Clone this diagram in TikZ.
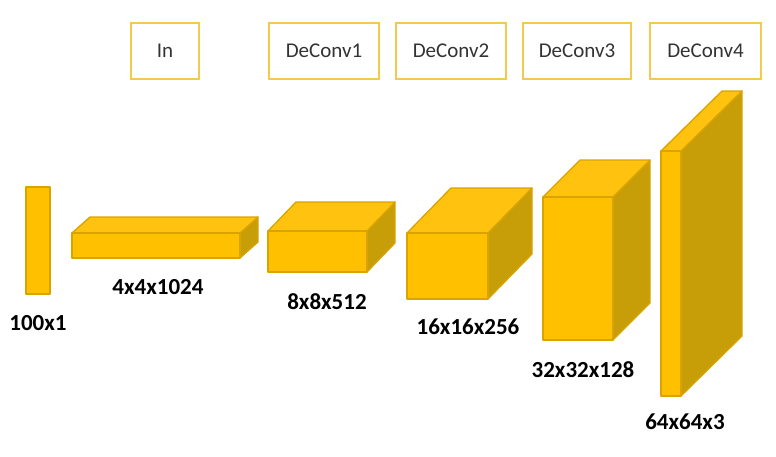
\documentclass[tikz,border=0pt]{standalone}
\usepackage{fontspec}
\setmainfont{Carlito}
\usepackage{tikz}

\definecolor{frontgold}{HTML}{FFC000}
\definecolor{topgold}{HTML}{FFC30F}
\definecolor{sidegold}{HTML}{C89E08}
\definecolor{edgegold}{HTML}{D9A400}
\definecolor{tagframe}{HTML}{F5C94E}
\definecolor{tagtext}{HTML}{333333}

\tikzset{
    face/.style={draw=edgegold, line width=1.3pt, line join=round},
    tag/.style={rectangle, draw=tagframe, line width=2pt, fill=white,
        text=tagtext, font=\fontsize{21}{25}\selectfont,
        minimum height=56pt, inner sep=0pt, anchor=north west},
    size/.style={font=\fontsize{23}{27}\selectfont\bfseries, text=black}
}

% front top left (x,y), width, height, depth (dx,dy)
\newcommand{\cuboid}[6]{%
    \filldraw[face, fill=sidegold] (#1+#3,#2) -- ++(#5,#6) -- ++(0,#4) -- ++(-#5,-#6) -- cycle;
    \filldraw[face, fill=topgold] (#1,#2) -- ++(#5,#6) -- ++(#3,0) -- ++(-#5,-#6) -- cycle;
    \filldraw[face, fill=frontgold] (#1,#2) rectangle ++(#3,#4);
}

\begin{document}
\begin{tikzpicture}[x=1pt, y=-1pt]
    \useasboundingbox (0,0) rectangle (776,456);

    % layer names
    \node[tag, minimum width=68pt]  (in)      at (130,22) {In};
    \node[tag, minimum width=110pt] (deconv1) at (268,22) {DeConv1};
    \node[tag, minimum width=110pt] (deconv2) at (395,22) {DeConv2};
    \node[tag, minimum width=108pt] (deconv3) at (522,22) {DeConv3};
    \node[tag, minimum width=111pt] (deconv4) at (649,22) {DeConv4};

    % volumes
    \filldraw[face, fill=frontgold] (26,187) rectangle (50,294);
    \cuboid{72}{233}{168}{25}{18}{-16}
    \cuboid{268}{231}{99}{41}{28}{-29}
    \cuboid{407}{233}{81}{66}{44}{-45}
    \cuboid{543}{197}{70}{143}{37}{-37}
    \cuboid{661}{151}{20}{245}{61}{-60}

    % sizes
    \node[size] (s1) at (38,323)  {100x1};
    \node[size] (s2) at (158,287) {4x4x1024};
    \node[size] (s3) at (327,302) {8x8x512};
    \node[size] (s4) at (468,327) {16x16x256};
    \node[size] (s5) at (583,370) {32x32x128};
    \node[size] (s6) at (685,422) {64x64x3};
\end{tikzpicture}
\end{document}
